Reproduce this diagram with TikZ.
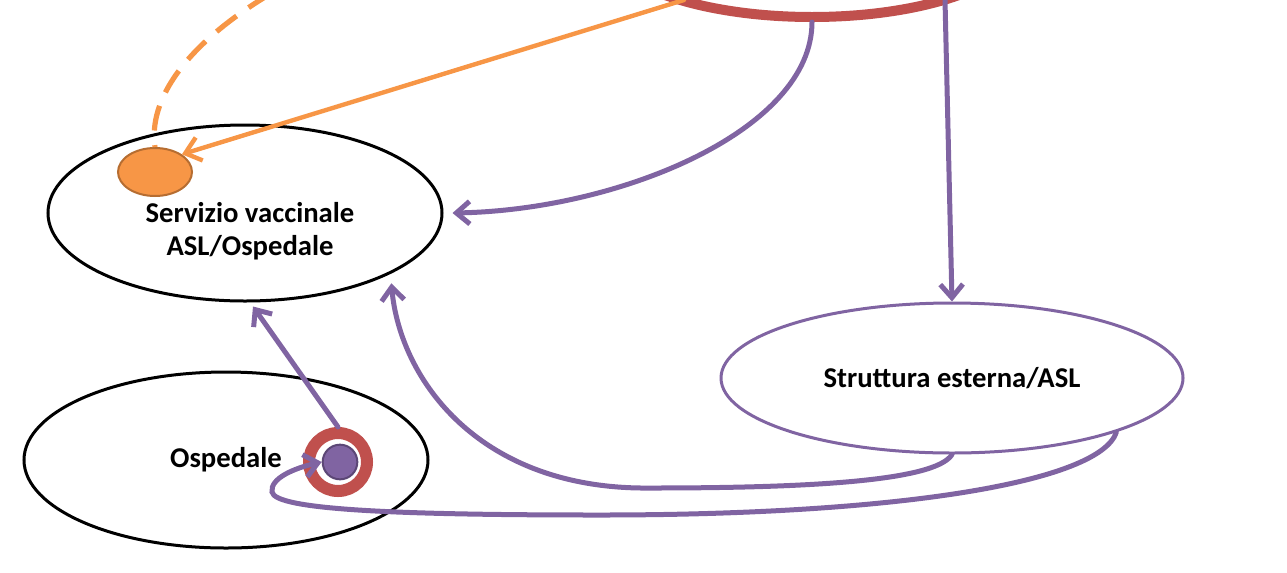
\documentclass[tikz,border=0pt]{standalone}
\usepackage{fontspec}
\setmainfont{Carlito}
\usetikzlibrary{shapes.geometric,arrows.meta,calc}
\definecolor{vorange}{HTML}{F79646}
\definecolor{vorangedk}{HTML}{B66D31}
\definecolor{vpurple}{HTML}{8064A2}
\definecolor{vpurpledk}{HTML}{5C4776}
\definecolor{vred}{HTML}{C0504D}
\tikzset{
  bigell/.style={ellipse, draw=black, line width=2.25pt, inner sep=0pt},
  lbl/.style={font=\fontsize{21.5}{24.75}\selectfont\bfseries, align=center, inner sep=0pt},
  parrow/.style={draw=vpurple, line width=3.75pt, line cap=round,
     -{Straight Barb[length=10pt,width=17pt,line width=3.75pt]}},
  oarrow/.style={draw=vorange, line width=3.3pt, line cap=round,
     -{Straight Barb[length=11pt,width=18pt,line width=3.3pt]}},
}
\begin{document}
\begin{tikzpicture}[x=0.75pt,y=-0.75pt]
\useasboundingbox (0,0) rectangle (1287,572);
% top red ellipse (mostly out of view)
\node[ellipse, draw=vred, line width=7.5pt, minimum width=315pt, minimum height=115.5pt, inner sep=0pt] (top) at (812,-60) {};
% main ellipses
\node[bigell, minimum width=295.5pt, minimum height=132pt] (serv) at (245,213) {};
\node[lbl] (servtxt) at (250,231) {Servizio vaccinale\\ASL/Ospedale};
\node[ellipse, draw=vpurple, line width=2.25pt, inner sep=0pt, minimum width=346.5pt, minimum height=112.5pt, lbl] (strut) at (952,378) {Struttura esterna/ASL};
\node[bigell, minimum width=303pt, minimum height=132pt, lbl] (osp) at (226,460) {Ospedale};
% orange dot
\node[ellipse, fill=vorange, draw=vorangedk, line width=1.5pt, minimum width=55.5pt, minimum height=36pt, inner sep=0pt] (odot) at (155,172) {};
% ring and purple dot
\node[circle, draw=vred, line width=9pt, minimum size=43.5pt, inner sep=0pt] (ring) at (338,462) {};
\node[circle, fill=vpurple, draw=vpurpledk, line width=1.5pt, minimum size=26pt, inner sep=0pt] (pdot) at (340,462) {};
% free ends at the top edge
\coordinate (dstart) at (270,-6);
\coordinate (ostart) at (684,0);
\coordinate (vstart) at (945,0);
% orange connectors
\draw[draw=vorange, line width=3.9pt, dash pattern=on 19pt off 11pt] (dstart) .. controls (185,45) and (148,100) .. (odot.north);
\draw[oarrow] (ostart) -- (odot.north east);
% purple connectors
\draw[parrow] (top.south) .. controls (812,130) and (620,210) .. ($(serv.east)+(9,0)$);
\draw[parrow] (vstart) -- (strut.north);
\draw[parrow] (ring.north) -- ($(serv.south)+(8,4)$);
\draw[parrow] (strut.south) .. controls (935,482) and (800,488) .. (650,488)
   .. controls (480,490) and (400,380) .. ($(serv.south east)+(6,7)$);
\draw[parrow] (strut.south east) .. controls (1100,482) and (900,515) .. (600,515)
   .. controls (400,515) and (275,510) .. (272,492)
   .. controls (270,478) and (295,468) .. (pdot.west);
\end{tikzpicture}
\end{document}
